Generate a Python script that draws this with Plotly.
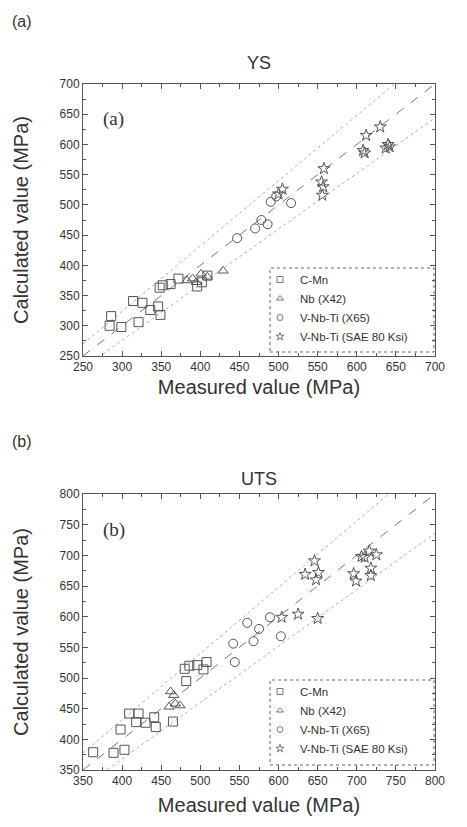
import plotly.graph_objects as go

# ---------------- DATA ----------------
series_names = ["C-Mn", "Nb (X42)", "V-Nb-Ti (X65)", "V-Nb-Ti (SAE 80 Ksi)"]

# YS panel
ys_cmn_x = [284, 286, 299, 314, 321, 326, 336, 346, 349, 348, 352, 362, 372, 396, 402, 409]
ys_cmn_y = [300, 316, 298, 341, 306, 338, 326, 332, 318, 363, 367, 369, 378, 365, 372, 383]
ys_nb_x = [383, 390, 395, 401, 409, 429]
ys_nb_y = [375, 378, 372, 386, 381, 391]
ys_x65_x = [447, 470, 478, 486, 490, 497, 516]
ys_x65_y = [445, 461, 475, 468, 505, 514, 503]
ys_sae_x = [500, 505, 558, 555, 557, 556, 612, 608, 610, 630, 640, 637, 642]
ys_sae_y = [518, 526, 560, 538, 530, 516, 615, 590, 586, 629, 600, 594, 596]

# UTS panel
uts_cmn_x = [363, 389, 403, 398, 409, 421, 418, 430, 441, 443, 465, 482, 480, 486, 496, 504, 508]
uts_cmn_y = [379, 378, 383, 416, 442, 442, 428, 427, 436, 420, 429, 495, 515, 520, 521, 514, 526]
uts_nb_x = [460, 466, 468, 474, 462]
uts_nb_y = [453, 472, 458, 455, 478]
uts_x65_x = [542, 544, 560, 568, 575, 589, 603]
uts_x65_y = [556, 526, 590, 560, 580, 599, 568]
uts_sae_x = [604, 625, 650, 634, 646, 651, 648, 696, 699, 706, 710, 716, 725, 718, 718]
uts_sae_y = [599, 604, 597, 669, 691, 672, 660, 670, 658, 698, 697, 707, 701, 679, 667]

ys_range = [250, 700]
uts_range = [350, 800]
band = 0.08  # +/- band for dotted lines
ys_ticks = list(range(250, 701, 50))
uts_ticks = list(range(350, 801, 50))

# ---------------- STYLE ----------------
W, H = 467, 827
symbols = ["square-open", "triangle-up-open", "circle-open", "star-open"]
mcol = "#555555"
axcol = "#555555"
font_sans = "Liberation Sans, Arial, sans-serif"
font_serif = "Liberation Serif, Times New Roman, serif"

def py(p):  # pixel y -> paper
    return 1 - p / H

def px(p):
    return p / W

fig = go.Figure()

panels = [
    dict(xa="x", ya="y", leg="legend", rng=ys_range,
         data=[(ys_cmn_x, ys_cmn_y), (ys_nb_x, ys_nb_y), (ys_x65_x, ys_x65_y), (ys_sae_x, ys_sae_y)]),
    dict(xa="x2", ya="y2", leg="legend2", rng=uts_range,
         data=[(uts_cmn_x, uts_cmn_y), (uts_nb_x, uts_nb_y), (uts_x65_x, uts_x65_y), (uts_sae_x, uts_sae_y)]),
]

for p in panels:
    lo, hi = p["rng"]
    diag = [lo, hi]
    fig.add_trace(go.Scatter(x=diag, y=[v * (1 + band) for v in diag], mode="lines",
                             line=dict(color="#b0b0b0", width=1, dash="dot"),
                             xaxis=p["xa"], yaxis=p["ya"], showlegend=False, hoverinfo="skip"))
    fig.add_trace(go.Scatter(x=diag, y=[v * (1 - band) for v in diag], mode="lines",
                             line=dict(color="#b0b0b0", width=1, dash="dot"),
                             xaxis=p["xa"], yaxis=p["ya"], showlegend=False, hoverinfo="skip"))
    fig.add_trace(go.Scatter(x=diag, y=diag, mode="lines",
                             line=dict(color="#777777", width=1, dash="dash"),
                             xaxis=p["xa"], yaxis=p["ya"], showlegend=False, hoverinfo="skip"))
    for (xs, ys), name, sym in zip(p["data"], series_names, symbols):
        fig.add_trace(go.Scatter(x=xs, y=ys, mode="markers", name=name, showlegend=False,
                                 marker=dict(symbol=sym, size=9, color=mcol, line=dict(width=1, color=mcol)),
                                 xaxis=p["xa"], yaxis=p["ya"]))
        # small legend swatch (legend entry only)
        fig.add_trace(go.Scatter(x=[None], y=[None], mode="markers", name=name,
                                 marker=dict(symbol=sym, size=6, color="#777777", line=dict(width=1, color="#777777")),
                                 xaxis=p["xa"], yaxis=p["ya"], legend=p["leg"], hoverinfo="skip"))

# plot-area pixel boxes
left, right = 75, 427
top1, bot1 = 76, 348
top2, bot2 = 486, 762

axis_common = dict(showgrid=False, zeroline=False, showline=True, mirror="ticks",
                   linecolor=axcol, linewidth=1, ticks="inside", ticklen=5, tickcolor=axcol,
                   tickfont=dict(family=font_sans, size=12, color="#333333"),
                   minor=dict(ticks="inside", ticklen=3, tickcolor=axcol, dtick=25),
                   automargin=False)
title_font = dict(family=font_sans, size=20, color="#333333")

fig.update_layout(
    width=W, height=H, margin=dict(l=0, r=0, t=0, b=0),
    plot_bgcolor="white", paper_bgcolor="white",
    xaxis=dict(domain=[px(left), px(right)], range=ys_range, tickvals=ys_ticks, anchor="y",
               title=dict(text="Measured value (MPa)", font=title_font, standoff=6),
               **axis_common),
    yaxis=dict(domain=[py(bot1), py(top1)], range=ys_range, tickvals=ys_ticks, anchor="x",
               title=dict(text="Calculated value (MPa)", font=title_font, standoff=25),
               **axis_common),
    xaxis2=dict(domain=[px(left), px(right)], range=uts_range, tickvals=uts_ticks, anchor="y2",
                title=dict(text="Measured value (MPa)", font=title_font, standoff=10),
                **axis_common),
    yaxis2=dict(domain=[py(bot2), py(top2)], range=uts_range, tickvals=uts_ticks, anchor="x2",
                title=dict(text="Calculated value (MPa)", font=title_font, standoff=25),
                **axis_common),
    legend=dict(x=px(252), y=py(257), xanchor="left", yanchor="top",
                bgcolor="rgba(255,255,255,0)", borderwidth=0,
                font=dict(family=font_sans, size=11.5, color="#333333"), tracegroupgap=0,
                itemwidth=30),
    legend2=dict(x=px(252), y=py(669), xanchor="left", yanchor="top",
                 bgcolor="rgba(255,255,255,0)", borderwidth=0,
                 font=dict(family=font_sans, size=11.5, color="#333333"), tracegroupgap=0,
                 itemwidth=30),
    showlegend=True,
)

# legend boxes (dotted)
fig.add_shape(type="rect", xref="paper", yref="paper", x0=px(262), x1=px(426), y0=py(344), y1=py(260),
              line=dict(color="#666666", width=1, dash="dot"))
fig.add_shape(type="rect", xref="paper", yref="paper", x0=px(262), x1=px(426), y0=py(757), y1=py(672),
              line=dict(color="#666666", width=1, dash="dot"))

# annotations
ann_font = dict(family=font_sans, size=16, color="#333333")
fig.add_annotation(text="(a)", xref="paper", yref="paper", x=px(2), y=py(13), showarrow=False,
                   xanchor="left", yanchor="middle", font=ann_font)
fig.add_annotation(text="YS", xref="paper", yref="paper", x=px((left + right) / 2), y=py(55), showarrow=False,
                   xanchor="center", yanchor="middle", font=dict(family=font_sans, size=18, color="#333333"))
fig.add_annotation(text="(b)", xref="paper", yref="paper", x=px(2), y=py(433), showarrow=False,
                   xanchor="left", yanchor="middle", font=ann_font)
fig.add_annotation(text="UTS", xref="paper", yref="paper", x=px((left + right) / 2), y=py(471), showarrow=False,
                   xanchor="center", yanchor="middle", font=dict(family=font_sans, size=18, color="#333333"))
fig.add_annotation(text="(a)", xref="x domain", yref="y domain", x=0.05, y=0.87, showarrow=False,
                   xanchor="left", yanchor="middle", font=dict(family=font_serif, size=19, color="#333333"))
fig.add_annotation(text="(b)", xref="x2 domain", yref="y2 domain", x=0.05, y=0.87, showarrow=False,
                   xanchor="left", yanchor="middle", font=dict(family=font_serif, size=19, color="#333333"))

fig.write_html("out.html")
